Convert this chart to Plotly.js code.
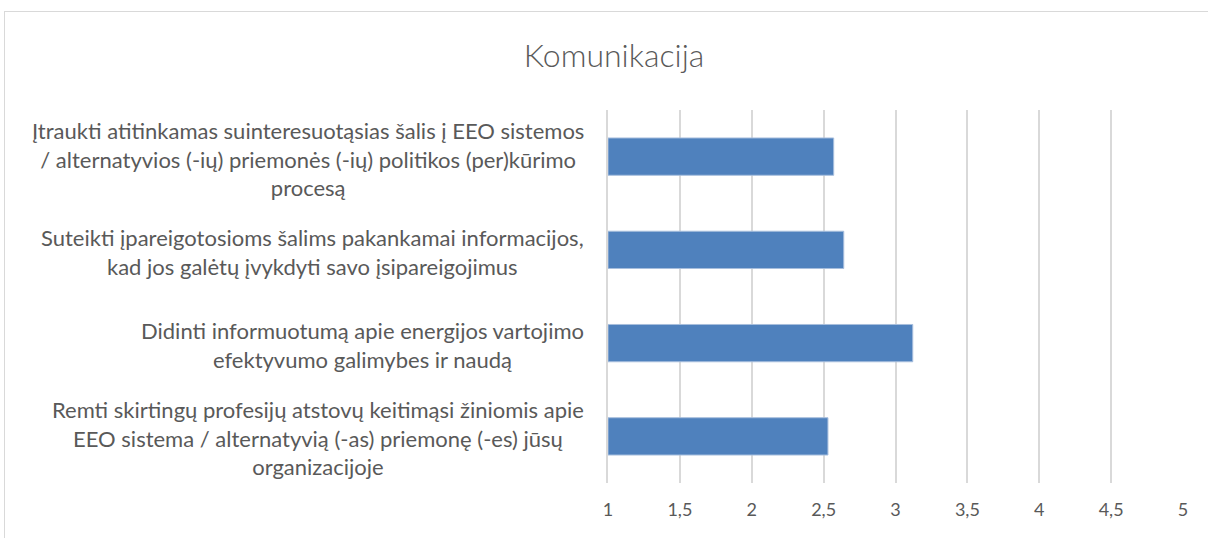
<!DOCTYPE html>
<html>
<head>
<meta charset="utf-8">
<script src="https://cdn.plot.ly/plotly-3.0.1.min.js"></script>
<style>
  html, body { margin: 0; padding: 0; background: #fff; overflow: hidden; }
  #chart { width: 1208px; height: 538px; }
  #frame { position: absolute; left: 4px; top: 11px; width: 1220px; height: 540px;
           border: 1px solid #d9d9d9; pointer-events: none; }
</style>
</head>
<body>
<div id="chart"></div>
<div id="frame"></div>
<script>
// kategorijos (iš viršaus į apačią)
const categories = [
  "Įtraukti atitinkamas suinteresuotąsias šalis į EEO sistemos<br>/ alternatyvios (-ių) priemonės (-ių) politikos (per)kūrimo<br>procesą",
  "Suteikti įpareigotosioms šalims pakankamai informacijos,<br>kad jos galėtų įvykdyti savo įsipareigojimus",
  "Didinti informuotumą apie energijos vartojimo<br>efektyvumo galimybes ir naudą",
  "Remti skirtingų profesijų atstovų keitimąsi žiniomis apie<br>EEO sistema / alternatyvią (-as) priemonę (-es) jūsų<br>organizacijoje"
];
const values = [2.57, 2.64, 3.12, 2.53];
const tickVals = [1, 1.5, 2, 2.5, 3, 3.5, 4, 4.5, 5];
const axisMin = 1;

const textColor = "#595959";
const gridColor = "#d9d9d9";
const fontFamily = 'Lato, "Open Sans", sans-serif';

// stulpeliai prasideda nuo 1 (ašies pradžia)
const trace = {
  type: "bar",
  orientation: "h",
  x: values.map((v) => v - axisMin),
  base: axisMin,
  y: categories,
  width: 0.4,
  marker: { color: "#4f81bd", line: { color: "#a7bedd", width: 1 } },
  hoverinfo: "none"
};

// kategorijų etiketės – centruotos, kaip originale
const annotations = categories.map((c) => ({
  xref: "paper",
  yref: "y",
  x: 0,
  y: c,
  xanchor: "right",
  xshift: -22,
  yshift: -2,
  align: "center",
  text: c,
  showarrow: false,
  font: { family: fontFamily, size: 22, color: textColor }
}));

const layout = {
  width: 1208,
  height: 538,
  separators: ",.",
  paper_bgcolor: "white",
  plot_bgcolor: "white",
  margin: { l: 608, r: 25, t: 110, b: 55 },
  title: {
    text: "Komunikacija",
    font: { family: fontFamily, size: 32, color: textColor, weight: 300 },
    xref: "container",
    x: 614 / 1208,
    xanchor: "center",
    yref: "container",
    y: 1 - 56 / 538,
    yanchor: "middle"
  },
  showlegend: false,
  xaxis: {
    range: [axisMin, 5],
    tickvals: tickVals,
    showgrid: true,
    gridcolor: gridColor,
    gridwidth: 2,
    zeroline: false,
    showline: false,
    ticks: "",
    ticklabelstandoff: 14,
    tickfont: { family: fontFamily, size: 18, color: textColor }
  },
  yaxis: {
    type: "category",
    autorange: "reversed",
    showticklabels: false,
    showgrid: false,
    zeroline: false,
    showline: true,
    linecolor: gridColor,
    linewidth: 2,
    ticks: ""
  },
  annotations: annotations
};

Plotly.newPlot("chart", [trace], layout, { displayModeBar: false, staticPlot: true });
</script>
</body>
</html>
